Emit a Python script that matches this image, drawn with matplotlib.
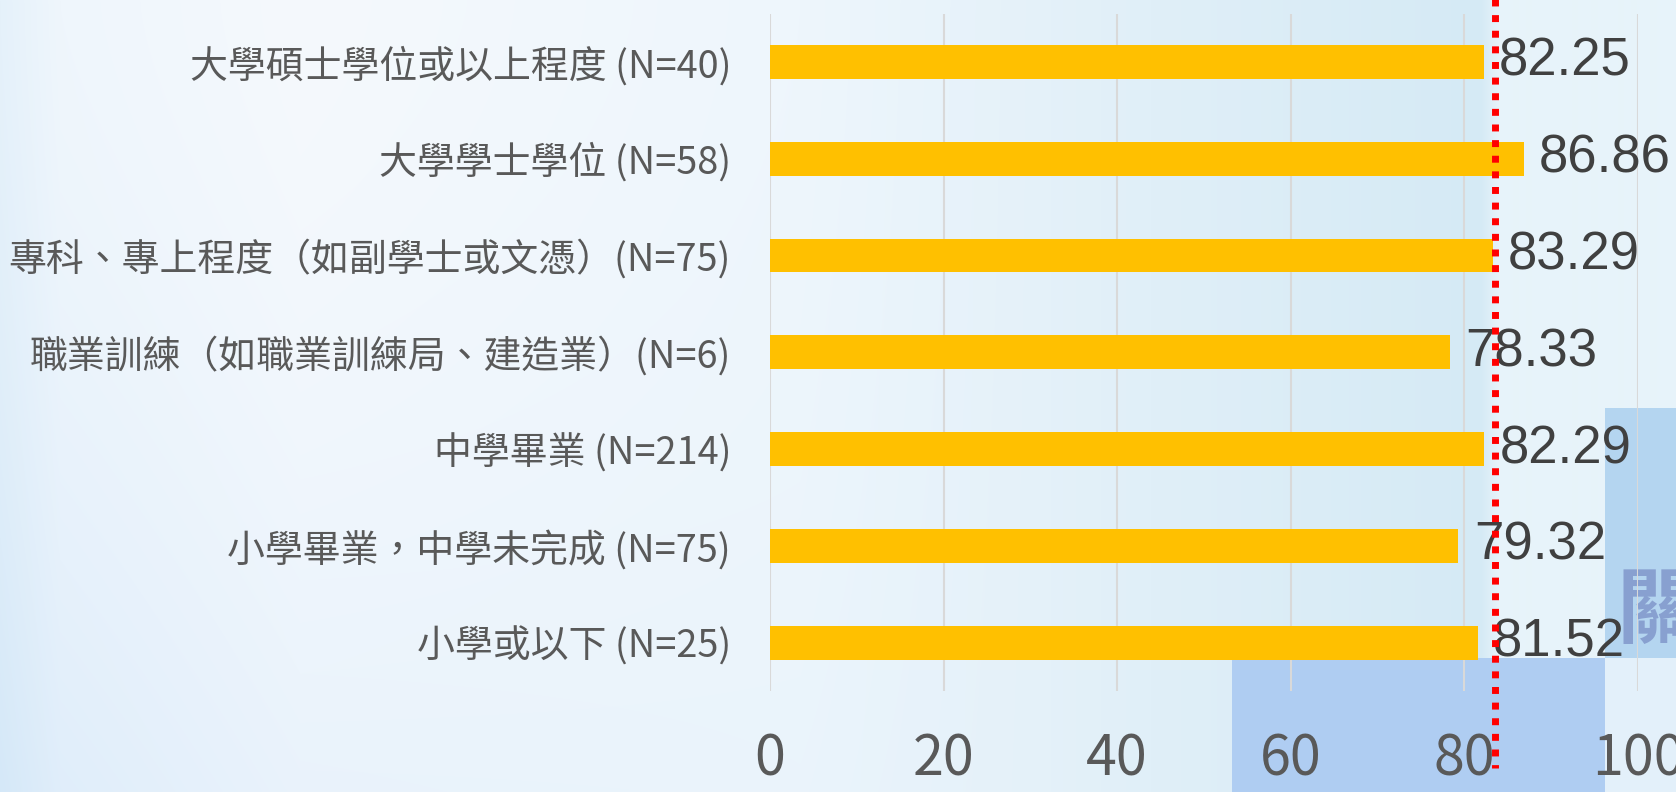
import numpy as np
import matplotlib
matplotlib.use("Agg")
import matplotlib.pyplot as plt
from matplotlib.colors import to_rgb
from matplotlib.patches import Rectangle

# ---- data ----
categories = [
    "大學碩士學位或以上程度 (N=40)",
    "大學學士學位 (N=58)",
    "專科、專上程度（如副學士或文憑）(N=75)",
    "職業訓練（如職業訓練局、建造業）(N=6)",
    "中學畢業 (N=214)",
    "小學畢業，中學未完成 (N=75)",
    "小學或以下 (N=25)",
]
values = [82.25, 86.86, 83.29, 78.33, 82.29, 79.32, 81.52]
reference_value = 83.55
x_ticks = [0, 20, 40, 60, 80, 100]

W, H = 1676, 792
fig = plt.figure(figsize=(W / 100, H / 100), dpi=100)

# ---- background ----
bg = fig.add_axes([0, 0, 1, 1], zorder=-10)
bg.set_axis_off()
xs = np.linspace(0, W, W)
ctrl_x = [0, 60, 300, 800, 1150, 1480, 1498, 1676]
ctrl_c = ["#e5f1fa", "#eff6fc", "#f5f9fd", "#eef6fc", "#e0eff8", "#d5eaf5", "#e7f3fa", "#e7f3fa"]
cols = np.array([to_rgb(c) for c in ctrl_c])
row = np.stack([np.interp(xs, ctrl_x, cols[:, k]) for k in range(3)], axis=-1)
ys = np.linspace(0, 1, H)[:, None]
xf = np.linspace(0, 1, W)[None, :]
shade = (ys ** 1.5) * np.clip(1 - xf * 1.6, 0, 1) * 0.07
img = row[None, :, :] - shade[..., None] * np.array([0.9, 0.5, 0.1])
bg.imshow(np.clip(img, 0, 1), extent=[0, W, H, 0], aspect="auto")
bg.set_xlim(0, W)
bg.set_ylim(H, 0)
bg.add_patch(Rectangle((1232, 658), 374, 134, color="#afcdf2", lw=0))
bg.add_patch(Rectangle((1605, 408), 71, 250, color="#b4d5f0", lw=0))
bg.add_patch(Rectangle((1605, 658), 71, 134, color="#e3f0fa", lw=0))
bg.text(1616, 612, "關", fontsize=60, color="#8197cb", fontweight="bold",
        family=["Noto Sans CJK TC", "DejaVu Sans"], ha="left", va="center", alpha=0.85)

# ---- chart ----
ax = fig.add_axes([770 / W, 1 - 691 / H, (1638 - 770) / W, (691 - 13.5) / H])
ax.patch.set_alpha(0)
y = np.arange(len(categories))
ax.barh(y, values, height=0.35, color="#ffc000", zorder=3)
ax.set_ylim(len(categories) - 0.5, -0.5)
ax.set_xlim(0, 100)
ax.set_xticks(x_ticks)
ax.set_yticks(y)
ax.set_yticklabels(categories, family=["Noto Sans CJK TC", "DejaVu Sans"],
                   fontsize=27.3, color="#595959", fontweight="light")
ax.set_xticklabels([str(t) for t in x_ticks], family=["Noto Sans CJK TC", "DejaVu Sans"],
                   fontsize=40, color="#595959", fontweight="light")
ax.tick_params(axis="y", length=0, pad=28)
ax.tick_params(axis="x", length=0, pad=29)
for s in ax.spines.values():
    s.set_visible(False)
ax.grid(axis="x", color="#d9d9d9", lw=1.5, zorder=1)
ax.set_axisbelow(True)

for yi, v in zip(y, values):
    ax.annotate(f"{v:.2f}", (v, yi), xytext=(11, 0), textcoords="offset points",
                ha="left", va="center", fontsize=38, color="#404040",
                family="Liberation Sans", zorder=5)

ax.plot([reference_value, reference_value], [1.03, -0.114],
        transform=ax.get_xaxis_transform(), color="#ff0000", lw=5,
        linestyle=(0, (1, 1.25)), dash_capstyle="butt", clip_on=False, zorder=6)

fig.savefig("out.png", dpi=100)
